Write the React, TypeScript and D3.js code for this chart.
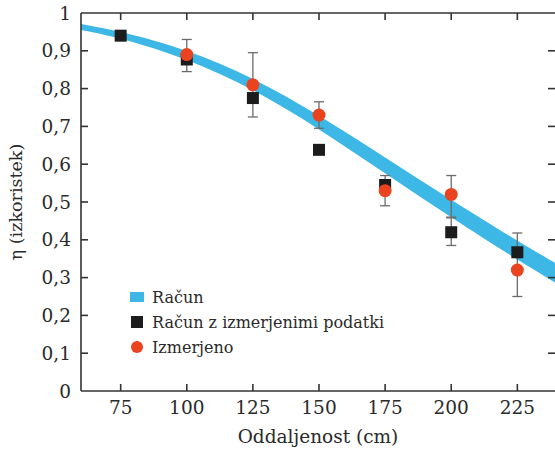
import React from "react";
import * as d3 from "d3";

// blue band (Račun): centre line and half-width
const bandX = [60, 75, 100, 125, 150, 175, 200, 225, 240];
const bandMid = [0.963, 0.943, 0.892, 0.815, 0.712, 0.597, 0.482, 0.372, 0.31];
const bandHalf = [0.008, 0.009, 0.012, 0.015, 0.018, 0.021, 0.023, 0.025, 0.026];

const distances = [75, 100, 125, 150, 175, 200, 225];
// Račun z izmerjenimi podatki (black squares)
const calcMeasured = [0.94, 0.877, 0.775, 0.638, 0.545, 0.42, 0.367];
const calcErrLow = [null, null, null, null, null, 0.385, 0.367];
const calcErrHigh = [null, null, null, null, null, 0.458, 0.418];
// Izmerjeno (red circles)
const measured = [null, 0.89, 0.81, 0.73, 0.53, 0.52, 0.32];
const measErrLow = [null, 0.845, 0.725, 0.695, 0.49, 0.46, 0.25];
const measErrHigh = [null, 0.93, 0.895, 0.765, 0.57, 0.57, 0.37];

const yTicks = [0, 0.1, 0.2, 0.3, 0.4, 0.5, 0.6, 0.7, 0.8, 0.9, 1];
const legendItems = ["Račun", "Račun z izmerjenimi podatki", "Izmerjeno"];

const BLUE = "#3db8e6";
const RED = "#ea4320";
const BLACK = "#1c1c1c";
const AXIS = "#333";
const FONT = "'DejaVu Serif', 'Liberation Serif', serif";

export default function App() {
  const W = 555, H = 449;
  const x = d3.scaleLinear().domain([60, 240]).range([81, 557]);
  const y = d3.scaleLinear().domain([0, 1]).range([391, 13]);

  const bandData = bandX.map((v, i) => ({ x: v, lo: bandMid[i] - bandHalf[i], hi: bandMid[i] + bandHalf[i] }));
  const area = d3.area<any>()
    .x(d => x(d.x))
    .y0(d => y(d.lo))
    .y1(d => y(d.hi))
    .curve(d3.curveBasis);

  const fmt = (v: number) => (v === 0 || v === 1 ? String(v) : v.toFixed(1).replace(".", ","));
  const tickLen = 7;

  const errBar = (xv: number, lo: number | null, hi: number | null, key: string) => {
    if (lo == null || hi == null) return null;
    const cx = x(xv);
    return (
      <g key={key} stroke="#6b6b6b" strokeWidth={1.3}>
        <line x1={cx} x2={cx} y1={y(lo)} y2={y(hi)} />
        <line x1={cx - 5} x2={cx + 5} y1={y(lo)} y2={y(lo)} />
        <line x1={cx - 5} x2={cx + 5} y1={y(hi)} y2={y(hi)} />
      </g>
    );
  };

  return (
    <svg width={W} height={H} style={{ position: "absolute", left: 0, top: 0, background: "#fff" }}>
      <path d={area(bandData) || ""} fill={BLUE} />

      {distances.map((d, i) => errBar(d, calcErrLow[i], calcErrHigh[i], "ce" + i))}
      {distances.map((d, i) => errBar(d, measErrLow[i], measErrHigh[i], "me" + i))}

      {distances.map((d, i) => (
        <rect key={"sq" + i} x={x(d) - 6} y={y(calcMeasured[i]) - 6} width={12} height={12} fill={BLACK} />
      ))}
      {distances.map((d, i) =>
        measured[i] == null ? null : (
          <circle key={"c" + i} cx={x(d)} cy={y(measured[i] as number)} r={6.5} fill={RED} />
        )
      )}

      {/* frame */}
      <g stroke={AXIS} strokeWidth={1.6} fill="none">
        <line x1={x.range()[0]} x2={x.range()[1]} y1={y(0)} y2={y(0)} />
        <line x1={x.range()[0]} x2={x.range()[1]} y1={y(1)} y2={y(1)} />
        <line x1={x.range()[0]} x2={x.range()[0]} y1={y(0)} y2={y(1)} />
        <line x1={x.range()[1]} x2={x.range()[1]} y1={y(0)} y2={y(1)} />
        {distances.map(d => (
          <g key={"xt" + d}>
            <line x1={x(d)} x2={x(d)} y1={y(0)} y2={y(0) - tickLen} />
            <line x1={x(d)} x2={x(d)} y1={y(1)} y2={y(1) + tickLen} />
          </g>
        ))}
        {yTicks.slice(1, -1).map(t => (
          <g key={"yt" + t}>
            <line x1={x.range()[0]} x2={x.range()[0] + tickLen} y1={y(t)} y2={y(t)} />
            <line x1={x.range()[1] - 9} x2={x.range()[1]} y1={y(t)} y2={y(t)} />
          </g>
        ))}
      </g>

      <g fontFamily={FONT} fontSize={18.5} fill="#2a2a2a">
        {distances.map(d => (
          <text key={"xl" + d} x={x(d)} y={y(0) + 23} textAnchor="middle">{d}</text>
        ))}
        {yTicks.map(t => (
          <text key={"yl" + t} x={71} y={y(t) + 6.5} textAnchor="end">{fmt(t)}</text>
        ))}
        <text x={318} y={443} textAnchor="middle" fontSize={18.5}>Oddaljenost (cm)</text>
        <text transform={`translate(22, ${y(0.5)}) rotate(-90)`} textAnchor="middle" fontSize={17.5}>η (izkoristek)</text>
      </g>

      <g fontFamily={FONT} fontSize={16} fill="#2a2a2a">
        {legendItems.map((name, i) => {
          const ly = 297 + i * 25;
          return (
            <g key={name}>
              {i === 0 && <rect x={130} y={ly - 5} width={14} height={10} fill={BLUE} />}
              {i === 1 && <rect x={131} y={ly - 6} width={12} height={12} fill={BLACK} />}
              {i === 2 && <circle cx={137} cy={ly} r={6} fill={RED} />}
              <text x={152} y={ly + 5.5}>{name}</text>
            </g>
          );
        })}
      </g>
    </svg>
  );
}
